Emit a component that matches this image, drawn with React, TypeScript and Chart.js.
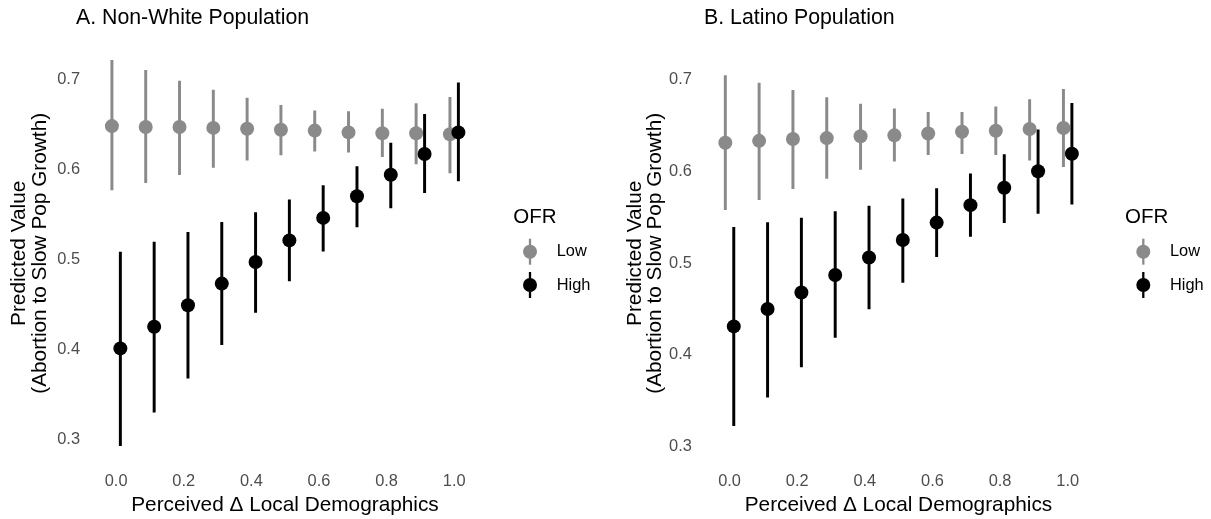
import React, { useEffect, useRef } from 'react';
import { Chart, registerables } from 'chart.js';

Chart.register(...registerables);

// ---------- data ----------
const xValues = [0, 0.1, 0.2, 0.3, 0.4, 0.5, 0.6, 0.7, 0.8, 0.9, 1.0];
const xTickValues = [0, 0.2, 0.4, 0.6, 0.8, 1.0];
const yTickValues = [0.3, 0.4, 0.5, 0.6, 0.7];
const groupLabels = ['Low', 'High'];
const legendTitle = 'OFR';
const xAxisTitle = 'Perceived \u0394 Local Demographics';
const yAxisTitle = ['Predicted Value', '(Abortion to Slow Pop Growth)'];
const panelTitles = ['A. Non-White Population', 'B. Latino Population'];

// Panel A: Non-White population
const lowA = [0.648, 0.647, 0.647, 0.646, 0.645, 0.644, 0.643, 0.641, 0.640, 0.640, 0.639];
const lowALower = [0.577, 0.585, 0.594, 0.602, 0.610, 0.616, 0.620, 0.619, 0.614, 0.606, 0.596];
const lowAUpper = [0.721, 0.710, 0.698, 0.688, 0.679, 0.671, 0.665, 0.664, 0.667, 0.673, 0.680];
const highA = [0.401, 0.425, 0.449, 0.473, 0.497, 0.521, 0.546, 0.570, 0.594, 0.617, 0.641];
const highALower = [0.293, 0.330, 0.368, 0.405, 0.441, 0.476, 0.509, 0.536, 0.557, 0.574, 0.587];
const highAUpper = [0.508, 0.519, 0.530, 0.541, 0.552, 0.566, 0.582, 0.603, 0.629, 0.661, 0.696];

// Panel B: Latino population
const lowB = [0.631, 0.633, 0.635, 0.636, 0.638, 0.639, 0.641, 0.643, 0.644, 0.646, 0.647];
const lowBLower = [0.558, 0.569, 0.581, 0.592, 0.602, 0.611, 0.618, 0.619, 0.618, 0.612, 0.605];
const lowBUpper = [0.704, 0.696, 0.688, 0.680, 0.673, 0.668, 0.664, 0.664, 0.670, 0.678, 0.689];
const highB = [0.431, 0.450, 0.468, 0.487, 0.506, 0.525, 0.544, 0.563, 0.582, 0.600, 0.619];
const highBLower = [0.323, 0.354, 0.387, 0.419, 0.450, 0.479, 0.507, 0.529, 0.544, 0.554, 0.564];
const highBUpper = [0.539, 0.544, 0.549, 0.556, 0.562, 0.570, 0.581, 0.597, 0.618, 0.645, 0.674];

// ---------- styles ----------
const GRAY = '#8a8a8a';
const BLACK = '#000000';
const TICK_COLOR = '#4d4d4d';
const FONT = '"Liberation Sans", Arial, Helvetica, sans-serif';
const DODGE = 0.0125;
const POINT_R = 7;
const BAR_W = 2.3;
const H = 519;

type Layout = {
  canvasLeft: number; width: number;
  left: number; right: number; top: number; bottom: number;
  xMin: number; xMax: number; yMin: number; yMax: number;
  yTickPad: number; titleX: number; yTitleBase: number[];
  legTitleX: number; legKeyX: number; legLabelX: number;
};

const layouts: Layout[] = [
  { canvasLeft: 0, width: 605, left: 94.4, right: 475.6, top: 41.4, bottom: 465.2,
    xMin: -0.0643, xMax: 1.0634, yMin: 0.2712, yMax: 0.7421, yTickPad: 14.4,
    titleX: 76, yTitleBase: [25, 45.5], legTitleX: 513.3, legKeyX: 530, legLabelX: 556.7 },
  { canvasLeft: 605, width: 606, left: 102.8, right: 484.1, top: 41.4, bottom: 465.2,
    xMin: -0.0643, xMax: 1.0634, yMin: 0.2799, yMax: 0.7413, yTickPad: 16,
    titleX: 99, yTitleBase: [36, 56], legTitleX: 520, legKeyX: 538.3, legLabelX: 565 },
];

const seriesSets = [
  { low: lowA, lowLo: lowALower, lowHi: lowAUpper, high: highA, highLo: highALower, highHi: highAUpper },
  { low: lowB, lowLo: lowBLower, lowHi: lowBUpper, high: highB, highLo: highBLower, highHi: highBUpper },
];

function makeTextPlugin(idx: number) {
  const L = layouts[idx];
  return {
    id: 'panelText' + idx,
    afterDraw(chart: any) {
      const ctx = chart.ctx as CanvasRenderingContext2D;
      ctx.save();
      // panel title
      ctx.fillStyle = BLACK;
      ctx.font = `21.3px ${FONT}`;
      ctx.textAlign = 'left';
      ctx.textBaseline = 'alphabetic';
      ctx.fillText(panelTitles[idx], L.titleX, 24);
      // x axis title
      ctx.font = `20.8px ${FONT}`;
      ctx.textAlign = 'center';
      const ca = chart.chartArea;
      ctx.fillText(xAxisTitle, (ca.left + ca.right) / 2, 511);
      // y axis title (rotated)
      const cy = (ca.top + ca.bottom) / 2;
      yAxisTitle.forEach((line, i) => {
        ctx.save();
        ctx.translate(L.yTitleBase[i], cy);
        ctx.rotate(-Math.PI / 2);
        ctx.textAlign = 'center';
        ctx.textBaseline = 'alphabetic';
        ctx.fillText(line, 0, 0);
        ctx.restore();
      });
      // legend
      ctx.textAlign = 'left';
      ctx.font = `20.5px ${FONT}`;
      ctx.fillText(legendTitle, L.legTitleX, 223);
      const keyYs = [251.7, 285];
      const cols = [GRAY, BLACK];
      groupLabels.forEach((lab, i) => {
        const y = keyYs[i];
        ctx.strokeStyle = cols[i];
        ctx.lineWidth = BAR_W;
        ctx.beginPath();
        ctx.moveTo(L.legKeyX, y - 13);
        ctx.lineTo(L.legKeyX, y + 13);
        ctx.stroke();
        ctx.fillStyle = cols[i];
        ctx.beginPath();
        ctx.arc(L.legKeyX, y, POINT_R, 0, Math.PI * 2);
        ctx.fill();
        ctx.fillStyle = BLACK;
        ctx.font = `16.4px ${FONT}`;
        ctx.textBaseline = 'middle';
        ctx.fillText(lab, L.legLabelX, y);
      });
      ctx.restore();
    },
  };
}

function Panel({ idx }: { idx: number }) {
  const ref = useRef<HTMLCanvasElement>(null);
  useEffect(() => {
    const L = layouts[idx];
    const S = seriesSets[idx];
    const lowX = xValues.map((x) => x - DODGE);
    const highX = xValues.map((x) => x + DODGE);
    const chart = new Chart(ref.current as HTMLCanvasElement, {
      type: 'scatter',
      data: {
        datasets: [
          {
            label: 'High',
            type: 'scatter',
            data: S.high.map((v, i) => ({ x: highX[i], y: v })),
            backgroundColor: BLACK,
            borderWidth: 0,
            pointRadius: POINT_R,
            order: 0,
          } as any,
          {
            label: 'High CI',
            type: 'bar',
            data: S.highLo.map((v, i) => ({ x: highX[i], y: [v, S.highHi[i]] })),
            backgroundColor: BLACK,
            borderWidth: 0,
            barThickness: BAR_W,
            grouped: false,
            order: 1,
          } as any,
          {
            label: 'Low',
            type: 'scatter',
            data: S.low.map((v, i) => ({ x: lowX[i], y: v })),
            backgroundColor: GRAY,
            borderWidth: 0,
            pointRadius: POINT_R,
            order: 2,
          } as any,
          {
            label: 'Low CI',
            type: 'bar',
            data: S.lowLo.map((v, i) => ({ x: lowX[i], y: [v, S.lowHi[i]] })),
            backgroundColor: GRAY,
            borderWidth: 0,
            barThickness: BAR_W,
            grouped: false,
            order: 3,
          } as any,
        ],
      },
      options: {
        responsive: false,
        animation: false,
        devicePixelRatio: 1,
        layout: { padding: { left: 0, right: L.width - L.right, top: L.top, bottom: 0 } },
        plugins: { legend: { display: false }, tooltip: { enabled: false }, title: { display: false } },
        scales: {
          x: {
            type: 'linear',
            min: L.xMin,
            max: L.xMax,
            offset: false,
            grid: { display: false, drawTicks: false },
            border: { display: false },
            afterBuildTicks: (s: any) => { s.ticks = xTickValues.map((v) => ({ value: v })); },
            afterFit: (s: any) => { s.height = H - L.bottom; },
            ticks: {
              padding: 6,
              color: TICK_COLOR,
              font: { family: FONT, size: 16.4 },
              maxRotation: 0,
              autoSkip: false,
              callback: (v: any) => Number(v).toFixed(1),
            },
          },
          y: {
            type: 'linear',
            min: L.yMin,
            max: L.yMax,
            grid: { display: false, drawTicks: false },
            border: { display: false },
            afterBuildTicks: (s: any) => { s.ticks = yTickValues.map((v) => ({ value: v })); },
            afterFit: (s: any) => { s.width = L.left; },
            ticks: {
              padding: L.yTickPad,
              color: TICK_COLOR,
              font: { family: FONT, size: 16.4 },
              autoSkip: false,
              callback: (v: any) => Number(v).toFixed(1),
            },
          },
        },
      } as any,
      plugins: [makeTextPlugin(idx)],
    });
    return () => chart.destroy();
  }, [idx]);
  const L = layouts[idx];
  return (
    <canvas
      ref={ref}
      width={L.width}
      height={H}
      style={{ position: 'absolute', left: L.canvasLeft, top: 0, width: L.width, height: H, display: 'block' }}
    />
  );
}

export default function App() {
  return (
    <div style={{ position: 'fixed', left: 0, top: 0, width: 1211, height: H, background: '#ffffff', overflow: 'hidden' }}>
      <Panel idx={0} />
      <Panel idx={1} />
    </div>
  );
}
